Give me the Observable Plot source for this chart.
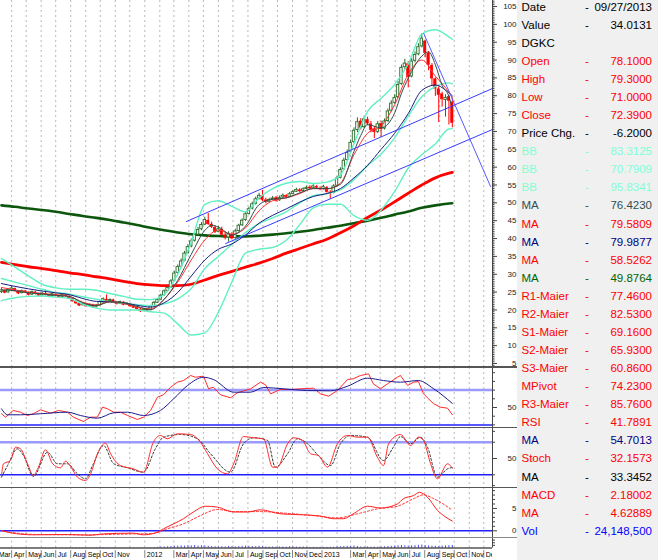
<!DOCTYPE html>
<html>
<head>
<meta charset="utf-8">
<script src="https://cdn.jsdelivr.net/npm/d3@7"></script>
<script src="https://cdn.jsdelivr.net/npm/@observablehq/plot@0.6"></script>
<style>
html,body{margin:0;padding:0;background:#fff;}
#chart{position:relative;width:658px;height:560px;overflow:hidden;background:#fff;font-family:"Liberation Sans",Arial,sans-serif;}
.pnl{position:absolute;left:0;}
.pnl svg{display:block;}
.sep{position:absolute;left:0;width:517px;background:#555;}
#info{position:absolute;left:517px;top:0;width:141px;height:560px;background:#f0f0f0;}
.row{position:absolute;left:0;width:141px;height:18px;line-height:18px;font-size:11.5px;white-space:nowrap;}
.row .l{position:absolute;left:4.5px;}
.row .d{position:absolute;left:68px;}
.row .v{position:absolute;right:6px;}
</style>
</head>
<body>
<div id="chart">
  <div id="p-main" class="pnl" style="top:0px"></div>
  <div id="p-rsi" class="pnl" style="top:367px"></div>
  <div id="p-sto" class="pnl" style="top:427px"></div>
  <div id="p-macd" class="pnl" style="top:487px"></div>
  <div id="p-axis" class="pnl" style="top:537px"></div>
  <div class="sep" style="top:366px;height:1.5px"></div>
  <div class="sep" style="top:426.5px;height:1.5px"></div>
  <div class="sep" style="top:486.5px;height:1.5px"></div>
  <div class="sep" style="top:536.5px;height:1px;background:#888"></div>
  <div id="info"></div>
</div>
<script>
// ---------- weekly candles (week 0 = 2011-03-11) ----------
const firstWeek = "2011-03-11";
const open = [25.0,25.4,24.9,25.5,25.9,25.1,24.7,25.2,24.8,24.3,
24.9,24.4,24.1,24.5,24.1,23.9,24.3,23.9,23.7,24.1,
23.7,23.1,22.3,21.7,21.3,21.5,21.1,21.3,20.9,21.3,
22.1,22.9,22.5,22.7,21.9,21.7,22.1,21.5,21.7,20.9,
20.5,20.1,19.7,20.1,19.9,21.1,22.0,22.9,24.1,25.3,
26.3,28.2,30.4,32.1,33.8,35.9,37.8,39.4,41.1,42.6,
43.9,45.0,43.9,43.0,41.9,42.5,40.9,40.3,41.1,40.1,
42.1,43.7,45.2,46.9,48.4,49.7,51.2,51.9,50.7,50.3,
51.0,51.3,50.7,51.5,51.9,51.7,52.5,53.1,53.5,53.3,
53.9,54.3,54.1,54.5,54.0,53.9,54.2,52.9,52.8,54.8,
57.0,59.4,62.0,64.3,67.0,70.4,72.8,71.2,73.2,72.0,
70.6,69.9,72.1,70.8,72.9,75.8,78.0,79.6,83.3,88.0,
88.8,85.4,89.8,91.6,93.8,95.2,91.8,88.4,84.6,81.8,
80.4,78.8,79.6,78.1];
const high = [26.0,25.6,25.9,26.6,26.1,25.4,25.6,25.5,25.0,25.3,
25.2,24.7,24.9,25.6,24.3,24.7,24.5,24.1,24.5,24.4,
24.0,23.4,22.6,22.0,21.9,21.8,21.7,21.6,21.5,22.5,
23.4,24.2,23.1,23.0,22.2,22.5,22.3,22.1,21.9,21.2,
20.9,20.4,20.3,20.4,21.3,22.4,23.2,24.4,25.6,26.6,
28.5,30.8,32.6,34.3,36.4,38.3,39.9,41.7,43.1,44.5,
46.0,47.0,44.6,43.6,43.4,43.2,41.8,41.9,41.7,42.6,
44.0,45.5,47.3,48.8,50.2,51.6,52.7,53.5,51.3,51.3,
51.8,51.8,51.9,52.5,52.3,52.9,53.5,54.1,54.0,54.2,
54.7,54.8,55.1,54.9,54.5,54.9,54.6,53.4,55.1,57.4,
59.8,62.5,64.8,67.6,71.0,73.8,73.6,74.3,74.0,72.8,
71.4,72.8,72.9,73.5,76.3,78.6,80.3,84.0,88.6,90.2,
89.6,90.4,92.3,94.6,97.4,95.6,92.4,89.0,85.0,82.5,
81.0,80.3,80.2,79.3];
const low = [24.6,24.5,24.7,25.2,25.0,24.3,24.5,24.6,23.9,24.1,
24.2,23.8,23.9,23.9,23.6,23.7,23.8,23.4,23.5,23.6,
23.0,22.2,21.6,21.0,21.1,20.8,20.9,20.6,20.6,21.1,
21.9,22.1,22.3,21.8,21.4,21.5,21.2,21.3,20.8,20.4,
19.9,19.3,19.5,19.6,19.8,20.9,21.8,22.7,23.9,25.0,
26.1,28.0,30.1,31.8,33.5,35.6,37.4,39.0,40.8,42.2,
43.6,43.7,42.8,41.4,41.6,40.7,39.6,39.0,39.6,39.8,
41.8,43.4,44.8,46.6,48.0,49.4,50.8,50.3,49.7,50.0,
50.7,50.2,50.4,51.2,51.2,51.4,52.2,52.9,52.8,53.0,
53.6,53.7,53.8,53.9,53.4,53.6,52.7,51.0,52.5,54.5,
56.7,59.1,61.6,63.9,66.6,69.7,70.4,70.8,71.6,69.6,
68.0,69.4,68.4,70.4,72.5,75.4,77.6,79.2,82.9,87.4,
82.2,85.0,89.2,91.2,93.4,90.6,87.0,82.6,79.8,72.5,
76.8,74.0,71.8,71.0];
const close = [25.5,24.8,25.6,26.0,25.2,24.6,25.3,24.8,24.2,25.0,
24.5,24.0,24.6,24.2,23.8,24.4,24.0,23.6,24.2,23.8,
23.2,22.4,21.8,21.2,21.6,21.0,21.4,20.8,21.2,22.2,
23.0,22.4,22.8,22.0,21.6,22.2,21.4,21.8,21.0,20.6,
20.2,19.6,20.0,19.8,21.0,22.0,22.8,24.0,25.2,26.2,
28.0,30.2,32.0,33.6,35.8,37.6,39.2,41.0,42.4,43.8,
45.2,44.0,43.2,41.8,42.6,41.0,40.2,41.2,40.0,42.0,
43.6,45.0,46.8,48.2,49.6,51.0,52.0,50.8,50.2,50.8,
51.2,50.6,51.4,52.0,51.6,52.4,53.0,53.6,53.2,53.8,
54.2,54.0,54.6,54.2,53.8,54.4,53.0,52.6,54.6,56.8,
59.2,61.8,64.0,66.8,70.2,72.6,71.0,73.4,72.2,70.4,
69.8,72.0,70.6,72.8,75.6,77.8,79.4,83.0,87.8,89.0,
85.2,89.6,91.4,93.6,96.0,92.0,88.6,84.8,82.0,80.2,
79.0,79.4,78.59,72.39];
const volumeM = [2,2,3,2,2,2,3,2,2,2, 2,2,2,2,1,2,2,1,2,2, 2,3,3,2,2,2,2,2,2,3, 3,3,2,2,2,2,2,2,2,2,
2,2,2,2,3,5,7,9,10,12, 14,16,18,20,18,22,20,24,18,22, 20,16,14,12,10,12,10,14,12,11, 14,16,18,16,14,12,16,12,10,9,
10,8,9,10,8,12,10,9,8,10, 6,5,6,5,6,5,6,7,8,10, 12,14,16,15,18,14,10,9,10,8, 9,8,10,12,14,16,18,22,24,20,
18,20,22,25,28,24,20,18,16,14, 18,20,22,24.15];

// ---------- overlay lines, sampled by week ----------
const sampleWeeks = [0,4,8,12,16,20,24,28,32,36,40,44,48,52,56,60,64,68,72,76,80,84,88,92,96,100,104,108,112,116,120,124,128,132,133];
const bbUpper = [34.4,32.0,29.5,27.2,26.2,25.8,25.8,25.5,24.6,23.8,23.0,22.9,24.3,30.0,39.0,49.6,50.6,49.0,47.5,51.4,54.0,55.5,56.0,55.4,55.8,57.8,66.6,75.6,79.3,83.2,88.9,97.3,98.5,96.5,95.83];
const bbMid = [28.8,27.8,26.8,25.8,24.9,24.5,23.7,23.0,22.3,21.9,21.5,21.2,21.7,23.1,26.0,31.6,35.0,38.4,41.7,44.2,45.8,47.5,50.0,52.0,52.6,53.7,56.5,60.4,63.7,68.2,74.3,79.7,82.6,83.6,83.31];
const bbLower = [22.6,23.4,23.8,23.9,23.6,23.2,21.6,20.5,20.0,20.0,20.0,19.5,19.1,16.1,13.0,13.6,19.4,27.9,35.9,37.0,37.5,39.5,43.9,48.6,49.6,49.6,46.4,45.1,48.0,53.2,59.7,63.5,66.5,70.7,70.79];
const maNavy = [27.4,26.6,25.9,25.3,24.8,24.3,23.2,22.4,22.3,22.0,21.3,20.8,22.0,24.9,29.5,34.0,37.0,38.5,41.0,44.3,46.5,48.3,50.2,51.8,52.6,54.0,57.0,60.5,65.0,69.5,75.0,81.5,83.0,80.8,79.99];
const maRed = [26.3,25.6,25.0,24.6,24.3,23.8,22.2,21.4,22.3,21.9,20.8,20.3,23.0,27.8,34.0,39.6,42.4,41.2,43.0,47.8,50.6,51.4,52.6,54.0,53.9,55.5,63.5,69.5,71.5,77.5,86.0,90.0,85.5,81.0,79.58];
const maLongRed = [33.3,32.7,32.1,31.6,31.0,30.4,29.9,29.3,28.7,28.0,27.4,27.0,26.8,26.8,27.2,28.4,29.7,30.8,32.0,33.1,34.4,35.9,37.2,38.5,39.8,41.6,43.6,45.9,48.0,50.3,52.7,55.0,57.0,58.3,58.53];
const maLongGreen = [49.3,48.9,48.4,48.0,47.5,46.9,46.3,45.8,45.2,44.5,43.8,43.0,42.3,41.7,41.2,40.9,40.7,40.6,40.6,40.8,41.1,41.5,41.9,42.4,43.0,43.6,44.3,45.0,45.8,46.7,47.6,48.6,49.3,49.8,49.88];
const maDarkWeeks = [0,4,8,12,16,20,24,28,32,36,40,44,48,52,56,60,62,64,68,72,76,80,84,88,92,96,100,104,106,108,112,116,118,120,124,126,128,130,132,133];
const maDark = [25.6,25.4,24.8,24.5,24.1,23.8,22.0,21.2,22.3,22.0,21.0,20.1,23.0,28.3,35.6,42.3,43.7,43.2,41.0,43.5,49.5,51.0,51.4,52.8,54.0,54.0,55.2,64.4,68.9,71.9,71.0,75.2,80.7,84.9,91.1,92.3,88.7,82.9,79.8,76.42];

// ---------- trend lines ----------
const trendUpperDates = ["2012-03-27","2013-12-19"], trendUpperValues = [44.78, 82.03];
const trendLowerDates = ["2012-06-16","2013-12-19"], trendLowerValues = [38.6, 70.55];
const trendDownDates = ["2013-07-30","2013-12-15"], trendDownValues = [97.44, 54.58];

// ---------- oscillators ----------
const rsiWeek = [0,1.2,3.5,5.6,7.7,9.4,11.5,14.5,16.8,19.5,21.2,24.2,26.3,28.3,29.8,31.3,33.1,35.1,37.2,40.1,41.9,44,46,47.8,49.9,51.9,53.7,55.8,57.2,59.6,61.1,62.5,64.6,67.6,69.6,73.5,76.4,77.9,79.4,82.3,85.3,88.2,92.1,94.1,96.5,99.1,102.1,103.8,105.9,108.3,109.7,111.8,113.9,116.8,117.7,119.8,121.6,123,124.5,127.5,129.5,131.6,133];
const rsiValue = [42.8,38.9,46.6,44.6,40.8,42.8,47.3,43.5,46.6,44.6,38.9,33.9,38.9,38.9,50.4,48.5,44.6,44.6,40.8,36.2,38.9,46.6,61.8,64.6,73.3,79.1,81.0,86.8,84.8,86.0,71.5,73.3,64.6,61.1,66.9,71.5,79.1,76.1,65.7,70.7,70.7,71.5,72.2,65.7,63.0,69.5,82.2,83.0,86.8,88.7,77.2,71.5,77.2,84.8,86.8,75.3,79.1,79.9,65.7,54.3,50.4,49.2,41.79];
const rsiMaWeek = [0,1.8,5.6,11.5,19.5,23.3,28.3,33.1,37.2,41.9,46.9,50.8,54.9,59.6,62.5,68.5,73.5,77.3,83.2,90.3,97.1,102.1,108,112.7,117.7,123,127.5,133];
const rsiMaValue = [48.5,41.6,41.6,42.8,44.6,40.8,37.7,43.9,44.6,40.8,46.6,60,75.3,84.8,82.2,67.6,67.6,73,71.5,69.5,69.2,74.5,83.7,81,79.1,81,71.5,54.70];
const stochWeek = [0,0.6,2.7,4.1,5.6,7.7,9.4,10.9,13,15.1,17.4,18.9,20.4,22.4,24.8,26.3,28.3,30.7,32.2,35.1,38.9,41.9,44.8,46.9,48.9,51.9,55.8,58.7,60.8,63.7,66.7,68.5,71.4,74.4,77.3,80,81.4,84.4,86.1,88.8,91.2,93.5,96.2,99.1,102.1,105,108,110.9,112.7,114.2,117.7,120.7,123,124.5,126.6,128.6,131.6,133];
const stochValue = [18.7,40.3,46.3,70.8,67.9,40.3,18.7,34,66,40.3,32.9,45,35.3,15.6,9.5,21.8,58.7,78.2,58.7,37.1,31,24.8,80,92.4,86.3,95.5,94.2,80,58.7,31,21.8,40.3,90.5,88.1,86.3,34,34,77.1,88.1,83.2,58.7,55.5,34,77.1,92.4,89.3,89.3,52.4,37.1,77.1,94.2,74,89.3,83.2,40.3,12.6,40.3,32.16];
const stochMaWeek = [0,1.8,4.7,6.5,9.4,13.6,16.5,19.5,22.4,24.8,27.1,30.1,33.1,37.2,41.9,45.4,47.8,52.8,57.8,61.7,67.6,71.4,74.4,78.5,80.8,84.4,87.3,90.3,93.2,97.1,100,103,108,112.7,115.6,117.7,120.7,123.6,125.7,128.6,131.6,133];
const stochMaValue = [15.6,37.1,67.9,55.5,16.9,61.6,40.3,40.3,21.8,12.6,40.3,74,40.3,32.9,24.8,67.9,89.3,94.2,86.3,58.7,24.8,77.1,88.1,83.2,34,58.7,86.3,77.1,57.4,37.1,77.1,92.4,89.3,46.3,70.8,90.5,77.1,89.3,70.8,15.6,31,33.35];
const macdWeek = [0,2.7,9.4,19.5,26.3,30.1,38.9,41.9,46,47.8,50.8,53.7,56.6,60.2,63.7,68.5,72.6,76.4,82.3,88.2,94.1,98,100.9,103.8,108,111.8,116.8,118.6,121.6,123.3,125.7,128.6,131,133];
const macdValue = [0.07,-0.45,-0.9,-0.83,-1.0,-0.68,-0.53,-0.9,-0.3,0.45,1.57,2.7,4.2,5.5,5.3,4.2,4.2,4.7,3.8,3.6,3.3,2.7,2.7,3.8,5.5,5.1,6.0,7.2,7.9,8.6,7.5,4.6,3.1,2.18];
const signalWeek = [0,9.4,24.2,38.9,44.8,48.9,53.7,58.7,63.7,68.5,76.4,84.4,92.1,99.1,105,110.9,116.8,121.6,124.5,127.5,133];
const signalValue = [0,-0.8,-0.9,-0.7,-0.6,0.45,1.57,3.4,4.76,4.3,4.3,3.9,3.4,2.9,3.8,4.9,5.5,7.2,8.05,7.2,4.63];

// ---------- axis labels ----------
const priceTicks = [5,10,15,20,25,30,35,40,45,50,55,60,65,70,75,80,85,90,95,100,105];
const monthTickDates = ["2011-03-01","2011-04-01","2011-05-01","2011-06-01","2011-07-01","2011-08-01","2011-09-01","2011-10-01","2011-11-01","2012-01-01","2012-03-01","2012-04-01","2012-05-01","2012-06-01","2012-07-01","2012-08-01","2012-09-01","2012-10-01","2012-11-01","2012-12-01","2013-01-01","2013-03-01","2013-04-01","2013-05-01","2013-06-01","2013-07-01","2013-08-01","2013-09-01","2013-10-01","2013-11-01","2013-12-01"];
const monthTickLabels = ["Mar","Apr","May","Jun","Jul","Aug","Sep","Oct","Nov","2012","Mar","Apr","May","Jun","Jul","Aug","Sep","Oct","Nov","Dec","2013","Mar","Apr","May","Jun","Jul","Aug","Sep","Oct","Nov","Dec"];

// ---------- info panel ----------
const infoLabels = ["Date","Value","DGKC","Open","High","Low","Close","Price Chg.","BB","BB","BB","MA","MA","MA","MA","MA","R1-Maier","R2-Maier","S1-Maier","S2-Maier","S3-Maier","MPivot","R3-Maier","RSI","MA","Stoch","MA","MACD","MA","Vol"];
const infoValues = ["09/27/2013","34.0131","","78.1000","79.3000","71.0000","72.3900","-6.2000","83.3125","70.7909","95.8341","76.4230","79.5809","79.9877","58.5262","49.8764","77.4600","82.5300","69.1600","65.9300","60.8600","74.2300","85.7600","41.7891","54.7013","32.1573","33.3452","2.18002","4.62889","24,148,500"];
const infoColors = ["#000","#000","#000","#f00","#f00","#f00","#f00","#000","#7fffd4","#7fffd4","#7fffd4","#2f4f4f","#f00","#000080","#f00","#006400","#f00","#f00","#f00","#f00","#f00","#f00","#f00","#f00","#000080","#f00","#000","#f00","#f00","#00f"];

// ================= drawing =================
const FONT = '"Liberation Sans", Arial, sans-serif';
const DAY = 864e5;
const xDomain = [new Date("2011-03-09"), new Date("2013-12-19")];
const t0 = Date.parse(firstWeek);
const weekDate = w => new Date(t0 + w * 7 * DAY);
const pts = (weeks, vals) => weeks.map((w, k) => ({date: weekDate(w), v: vals[k]}));
const seg = (dates, vals) => dates.map((d, k) => ({date: new Date(d), v: vals[k]}));
const gridMonths = d3.utcMonth.range(new Date("2011-04-01"), new Date("2013-12-02"));

function panel(height, yDomain, marks, gridSpan = null) {
  const span = gridSpan ? {y1: gridSpan[0], y2: gridSpan[1]} : {};
  return Plot.plot({
    width: 518, height, marginLeft: 0, marginRight: 26, marginTop: 0, marginBottom: 0,
    style: {fontFamily: FONT, background: "transparent", overflow: "visible"},
    x: {type: "utc", domain: xDomain, axis: null},
    y: {domain: yDomain, axis: null, label: null},
    marks: [
      Plot.ruleX(gridMonths, {...span, stroke: "#b8b8b8", strokeDasharray: "2,3", strokeWidth: 1}),
      ...marks,
      Plot.ruleX([xDomain[1]], {...span, stroke: "#444", strokeWidth: 1})
    ]
  });
}
const ticks = (vals, size) => Plot.tickY(vals, {y: d => d, insetLeft: 492, insetRight: -size, stroke: "#444", strokeWidth: 1});
const labels = vals => Plot.text(vals, {y: d => d, text: d => String(d), frameAnchor: "right", dx: 24, textAnchor: "end", fontSize: 8, fill: "#222"});
const ln = (data, stroke, strokeWidth, extra = {}) => Plot.line(data, {x: "date", y: "v", stroke, strokeWidth, curve: "monotone-x", ...extra});

const candles = close.map((c, i) => ({date: weekDate(i), o: open[i], h: high[i], l: low[i], c}));
const ups = candles.filter(d => d.c >= d.o), downs = candles.filter(d => d.c < d.o);
const half = 2.5 * DAY;
const bx1 = d => new Date(+d.date - half), bx2 = d => new Date(+d.date + half);

const minorPrice = d3.range(4, 106.6, 0.5);
document.getElementById("p-main").appendChild(panel(367, [3.88, 106.68], [
  ln(pts(sampleWeeks, maLongGreen), "#0d560d", 2.6),
  ln(pts(sampleWeeks, maLongRed), "#ff0000", 2.8),
  Plot.ruleX(ups, {x: "date", y1: "l", y2: "h", stroke: "#2b6b2b", strokeWidth: 1}),
  Plot.ruleX(downs, {x: "date", y1: "l", y2: "h", stroke: "#ff0000", strokeWidth: 1}),
  Plot.rect(ups, {x1: bx1, x2: bx2, y1: "o", y2: "c", fill: "#f8fff8", stroke: "#2b6b2b", strokeWidth: 0.9}),
  Plot.rect(downs, {x1: bx1, x2: bx2, y1: "o", y2: "c", fill: "#ff0000", stroke: "#ff0000", strokeWidth: 0.6}),
  ln(pts(sampleWeeks, bbUpper), "#5ff0c4", 1.4),
  ln(pts(sampleWeeks, bbMid), "#5ff0c4", 1.4),
  ln(pts(sampleWeeks, bbLower), "#5ff0c4", 1.4),
  ln(pts(sampleWeeks, maNavy), "#1c1c80", 1),
  ln(pts(sampleWeeks, maRed), "#ff3030", 1),
  ln(pts(maDarkWeeks, maDark), "#2f4f4f", 1),
  Plot.line(seg(trendUpperDates, trendUpperValues), {x: "date", y: "v", stroke: "#3a3aff", strokeWidth: 1}),
  Plot.line(seg(trendLowerDates, trendLowerValues), {x: "date", y: "v", stroke: "#3a3aff", strokeWidth: 1}),
  Plot.line(seg(trendDownDates, trendDownValues), {x: "date", y: "v", stroke: "#5a5aff", strokeWidth: 1}),
  ticks(minorPrice, 2.5),
  ticks(priceTicks, 5),
  labels(priceTicks)
]));

document.getElementById("p-rsi").appendChild(panel(60, [27.0, 95.98], [
  Plot.ruleY([70], {stroke: "#9a9aff", strokeWidth: 2.5}),
  Plot.ruleY([30], {stroke: "#2020ff", strokeWidth: 1.5}),
  Plot.line(pts(rsiWeek, rsiValue), {x: "date", y: "v", stroke: "#ff2a2a", strokeWidth: 1}),
  ln(pts(rsiMaWeek, rsiMaValue), "#1a1a90", 1),
  ticks([30,40,60,70,80,90], 3),
  ticks([50], 5),
  labels([50])
]));

document.getElementById("p-sto").appendChild(panel(60, [-3.4, 107.1], [
  Plot.ruleY([80], {stroke: "#9a9aff", strokeWidth: 2.5}),
  Plot.ruleY([20], {stroke: "#2020ff", strokeWidth: 1.5}),
  Plot.line(pts(stochMaWeek, stochMaValue), {x: "date", y: "v", stroke: "#333", strokeWidth: 1, strokeDasharray: "2,2", curve: "monotone-x"}),
  Plot.line(pts(stochWeek, stochValue), {x: "date", y: "v", stroke: "#ff2a2a", strokeWidth: 1, curve: "monotone-x"}),
  ticks([0,20,80,100], 3),
  ticks([50], 5),
  labels([50])
]));

document.getElementById("p-macd").appendChild(panel(50, [-1.5, 9.69], [
  Plot.ruleY([0], {stroke: "#2020ff", strokeWidth: 1.5}),
  Plot.line(pts(signalWeek, signalValue), {x: "date", y: "v", stroke: "#ff3030", strokeWidth: 1, strokeDasharray: "2,2", curve: "monotone-x"}),
  Plot.line(pts(macdWeek, macdValue), {x: "date", y: "v", stroke: "#ff2020", strokeWidth: 1, curve: "monotone-x"}),
  ticks([1,2,3,4,6,7,8,9], 3),
  ticks([0,5], 5),
  labels([0,5])
]));

// bottom strip: volume (0..100 M in the top 10.5 px) + date axis below it
const volData = volumeM.map((v, i) => ({date: weekDate(i), v}));
const monthData = monthTickDates.map((d, k) => ({date: new Date(d), t: monthTickLabels[k]}));
document.getElementById("p-axis").appendChild(panel(23, [-119, 100], [
  Plot.ruleX(volData, {x: "date", y1: 0, y2: "v", stroke: "#4a4aff", strokeWidth: 1}),
  Plot.ruleY([0], {stroke: "#000", strokeWidth: 1.2}),
  Plot.ruleX(monthData, {x: "date", y1: -24, y2: -100, stroke: "#888", strokeWidth: 1, clip: true}),
  Plot.text(monthData, {x: "date", y: () => -66, text: "t", dx: 2, textAnchor: "start", fontSize: 7, fill: "#000", clip: true}),
  ticks([25, 50, 75], 3)
], [0, 100]));

// info rows
const info = document.getElementById("info");
infoLabels.forEach((lab, k) => {
  const row = document.createElement("div");
  row.className = "row";
  row.style.top = (k * 18.07 - 2.3) + "px";
  row.style.color = infoColors[k];
  let html = `<span class="l">${lab}</span>`;
  if (infoValues[k]) html += `<span class="d">-</span><span class="v">${infoValues[k]}</span>`;
  row.innerHTML = html;
  info.appendChild(row);
});
</script>
</body>
</html>
